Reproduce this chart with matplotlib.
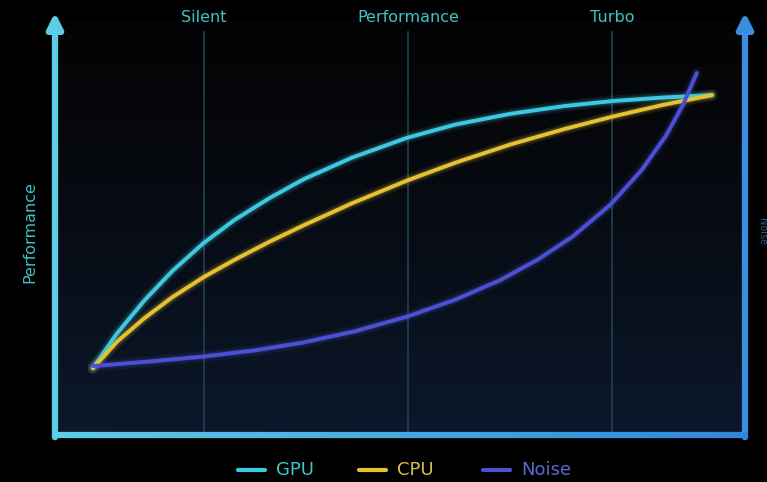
import numpy as np
import matplotlib.pyplot as plt
from matplotlib.collections import LineCollection
from matplotlib.colors import to_rgb

# values (x: 0-100 along the mode axis, y: 0-100)
modes = ['Silent', 'Performance', 'Turbo']
mode_x = [21.6, 51.2, 80.7]

gpu_x = [5.5, 9, 13, 17, 21.5, 26, 31, 36, 43, 51, 58, 66, 74, 81, 88, 95.2]
gpu_y = [16.1, 24.5, 32.5, 39.5, 46.2, 51.8, 57.0, 61.6, 66.8, 71.6, 74.8, 77.4, 79.3, 80.5, 81.3, 81.9]

cpu_x = [5.5, 9, 13, 17, 21.5, 26, 31, 36, 43, 51, 58, 66, 74, 81, 88, 95.2]
cpu_y = [16.1, 22.5, 28.2, 33.2, 38.0, 42.2, 46.5, 50.5, 55.8, 61.3, 65.6, 70.0, 73.8, 76.8, 79.5, 81.9]

noise_x = [5.5, 10, 15, 21.5, 29, 36, 43.5, 51, 58, 64.5, 70, 75, 80.5, 85, 88.5, 91, 93]
noise_y = [16.6, 17.2, 17.9, 18.9, 20.4, 22.3, 25.0, 28.5, 32.6, 37.3, 42.3, 47.8, 55.5, 63.8, 72.0, 79.5, 87.2]

series = [('GPU', gpu_x, gpu_y, '#3ec8e2', '#3ec6c8'),
          ('CPU', cpu_x, cpu_y, '#e6c232', '#d8c040'),
          ('Noise', noise_x, noise_y, '#4c50d2', '#5a68d0')]

fig = plt.figure(figsize=(7.67, 4.82), dpi=100)
fig.patch.set_facecolor('black')
ax = fig.add_axes([0, 0, 1, 1])
ax.set_facecolor('black')
ax.set_xlim(-7.97, 103.19)
ax.set_ylim(-11.33, 104.82)
ax.axis('off')

# background gradient of the plot area (black on top, navy at the bottom)
t = np.linspace(0, 1, 200) ** 1.3
bg = np.zeros((200, 1, 3))
bg[:, 0, 0] = 0.015 + 0.03 * t
bg[:, 0, 1] = 0.015 + 0.08 * t
bg[:, 0, 2] = 0.02 + 0.15 * t
ax.imshow(bg, extent=[0, 100, 0, 100], aspect='auto', origin='upper', zorder=0)

# mode lines and labels
for name, mx in zip(modes, mode_x):
    ax.plot([mx, mx], [0, 97], color='#1f3c4a', lw=1.3, zorder=1)
    ax.text(mx, 100.6, name, color='#3fc4c4', fontsize=11.5, ha='center', va='center')

# curves with glow
for name, xs, ys, c, tc in series:
    ax.plot(xs, ys, color=c, lw=8, alpha=0.1, solid_capstyle='round',
            solid_joinstyle='round', zorder=2)
    ax.plot(xs, ys, color=c, lw=5, alpha=0.18, solid_capstyle='round',
            solid_joinstyle='round', zorder=2)
    ax.plot(xs, ys, color=c, lw=2.8, solid_capstyle='round',
            solid_joinstyle='round', zorder=3)

# axes
ax.annotate('', xy=(0, 102.5), xytext=(0, -1.2),
            arrowprops=dict(arrowstyle='-|>,head_length=0.9,head_width=0.45',
                            lw=4.5, color='#5ccde6'), zorder=4)
ax.annotate('', xy=(100, 102.5), xytext=(100, -1.2),
            arrowprops=dict(arrowstyle='-|>,head_length=0.9,head_width=0.45',
                            lw=4.5, color='#3a8ee0'), zorder=4)
bx = np.linspace(-0.4, 100.4, 60)
segs = [[(bx[i], 0), (bx[i + 1], 0)] for i in range(len(bx) - 1)]
c0 = np.array(to_rgb('#5ccde6'))
c1 = np.array(to_rgb('#2f86dc'))
cols = [c0 + (c1 - c0) * f for f in np.linspace(0, 1, len(segs))]
ax.add_collection(LineCollection(segs, colors=cols, linewidths=4.5, zorder=4))

# axis titles
ax.text(-3.6, 49, 'Performance', color='#3fc0c4', fontsize=11.5, rotation=90,
        ha='center', va='center')
ax.text(102.4, 49, 'Noise', color='#2c5a8c', fontsize=7, rotation=270,
        ha='center', va='center')

# legend
leg_x = [26.5, 44.0, 62.0]
for (name, xs, ys, c, tc), lx in zip(series, leg_x):
    ax.plot([lx, lx + 3.9], [-8.5, -8.5], color=c, lw=3, solid_capstyle='round')
    ax.text(lx + 5.6, -8.5, name, color=tc, fontsize=13, ha='left', va='center')

plt.savefig('out.png', dpi=100, facecolor='black')
